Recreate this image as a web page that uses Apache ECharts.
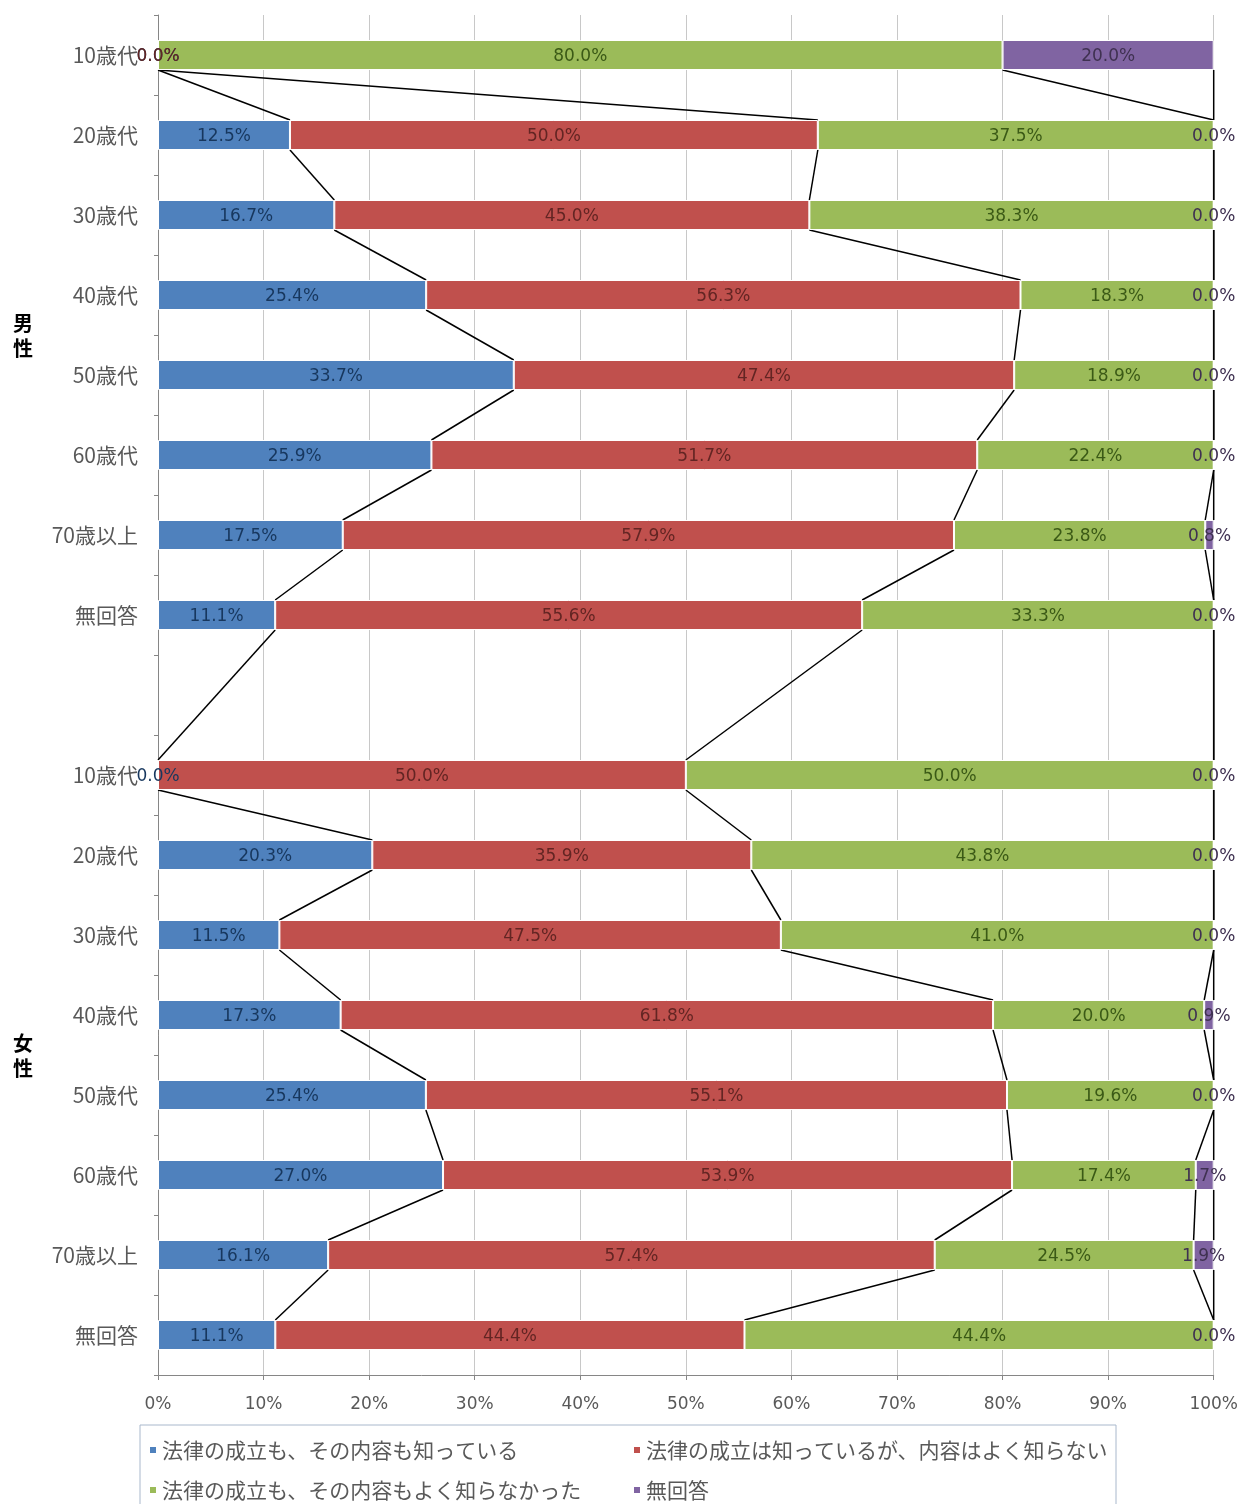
<!DOCTYPE html>
<html><head><meta charset="utf-8">
<script src="https://cdn.jsdelivr.net/npm/echarts@6/dist/echarts.min.js"></script>
<style>html,body{margin:0;padding:0;background:#fff}#c{width:1241px;height:1504px}</style>
</head><body><div id="c"></div>
<script>
const categories = ['10歳代','20歳代','30歳代','40歳代','50歳代','60歳代','70歳以上','無回答','',
  '10歳代','20歳代','30歳代','40歳代','50歳代','60歳代','70歳以上','無回答'];
const seriesNames = ['法律の成立も、その内容も知っている','法律の成立は知っているが、内容はよく知らない','法律の成立も、その内容もよく知らなかった','無回答'];
const knowBoth   = [0,12.5,16.7,25.4,33.7,25.9,17.5,11.1,null, 0,20.3,11.5,17.3,25.4,27.0,16.1,11.1];
const knowLaw    = [0,50.0,45.0,56.3,47.4,51.7,57.9,55.6,null, 50.0,35.9,47.5,61.8,55.1,53.9,57.4,44.4];
const knowNone   = [80.0,37.5,38.3,18.3,18.9,22.4,23.8,33.3,null, 50.0,43.8,41.0,20.0,19.6,17.4,24.5,44.4];
const noAnswer   = [20.0,0,0,0,0,0,0.8,0,null, 0,0,0,0.9,0,1.7,1.9,0];
const xTicks = [0,10,20,30,40,50,60,70,80,90,100];

const colors = ['#4f81bd','#c0504d','#9bbb59','#8064a2'];
const labelColors = ['#17375e','#632523','#3b5a16','#3f3151'];
const BAR_W = 30;
const raw = [knowBoth, knowLaw, knowNone, noAnswer];

// normalize rows to 100% (Excel 100% stacked)
const sums = categories.map((c,i)=> raw[0][i]==null ? null : raw.reduce((a,s)=>a+s[i],0));
const norm = raw.map(s => s.map((v,i)=> v==null ? null : Math.round(v/sums[i]*100*1e6)/1e6));

// cumulative ends for series lines
const rows = categories.map((c,i)=>i).filter(i=>raw[0][i]!=null);
const lineData = [];
for (let r=0;r<rows.length-1;r++){
  const a=rows[r], b=rows[r+1];
  let ca=0, cb=0;
  for (let k=0;k<4;k++){
    ca+=norm[k][a]; cb+=norm[k][b];
    lineData.push([Math.min(ca,100),a,Math.min(cb,100),b]);
  }
}

const font = '"Noto Sans CJK JP", sans-serif';
const numFont = '"DejaVu Sans", sans-serif';
const chart = echarts.init(document.getElementById('c'));
const barSeries = seriesNames.map((name,k)=>({
  name, type:'bar', stack:'all', barWidth:BAR_W, clip:false,
  itemStyle:{color:colors[k], borderColor:'#ffffff', borderWidth:1},
  label:{show:true, position:'inside', offset:[0,2], color:labelColors[k], fontSize:17, fontFamily:numFont,
    formatter: p => raw[k][p.dataIndex]==null ? '' : raw[k][p.dataIndex].toFixed(1)+'%'},
  data: norm[k]
}));
chart.setOption({
  animation:false,
  color:colors,
  grid:{left:158, right:27, top:15, bottom:129},
  xAxis:{type:'value', min:0, max:100, interval:10,
    axisLine:{show:true, lineStyle:{color:'#868686'}},
    axisTick:{show:true, length:5, lineStyle:{color:'#868686'}},
    splitLine:{show:true, lineStyle:{color:'#c8c8c8'}},
    axisLabel:{formatter:'{value}%', color:'#595959', fontSize:17, fontFamily:numFont, margin:21}},
  yAxis:{type:'category', inverse:true, data:categories,
    axisLine:{show:true, lineStyle:{color:'#868686'}},
    axisTick:{show:true, length:4, lineStyle:{color:'#868686'}},
    axisLabel:{color:'#595959', fontSize:21, fontFamily:font, margin:20}},
  legend:{left:140, top:1425, width:975, orient:'horizontal',
    data:seriesNames, icon:'rect', itemWidth:8, itemHeight:8, itemGap:0,
    padding:[5,0,30,8], borderColor:'#a9b8cc', borderWidth:1,
    textStyle:{color:'#595959', fontSize:21, fontFamily:font, width:470, lineHeight:40}},
  graphic:[
    {type:'text', left:13, top:311, style:{text:'男\n性', fontSize:20, fontWeight:'bold', fill:'#000', fontFamily:font, lineHeight:25}},
    {type:'text', left:13, top:1031, style:{text:'女\n性', fontSize:20, fontWeight:'bold', fill:'#000', fontFamily:font, lineHeight:25}}
  ],
  series: barSeries.concat([{
    type:'custom', name:'series-lines', silent:true, z:1,
    encode:{x:[0,2], y:[1,3]},
    renderItem:(params, api)=>{
      const p1 = api.coord([api.value(0), api.value(1)]);
      const p2 = api.coord([api.value(2), api.value(3)]);
      return {type:'line', shape:{x1:p1[0], y1:p1[1]+BAR_W/2, x2:p2[0], y2:p2[1]-BAR_W/2},
        style:{stroke:'#000', lineWidth:1.5}};
    },
    data: lineData
  }])
});
</script></body></html>
